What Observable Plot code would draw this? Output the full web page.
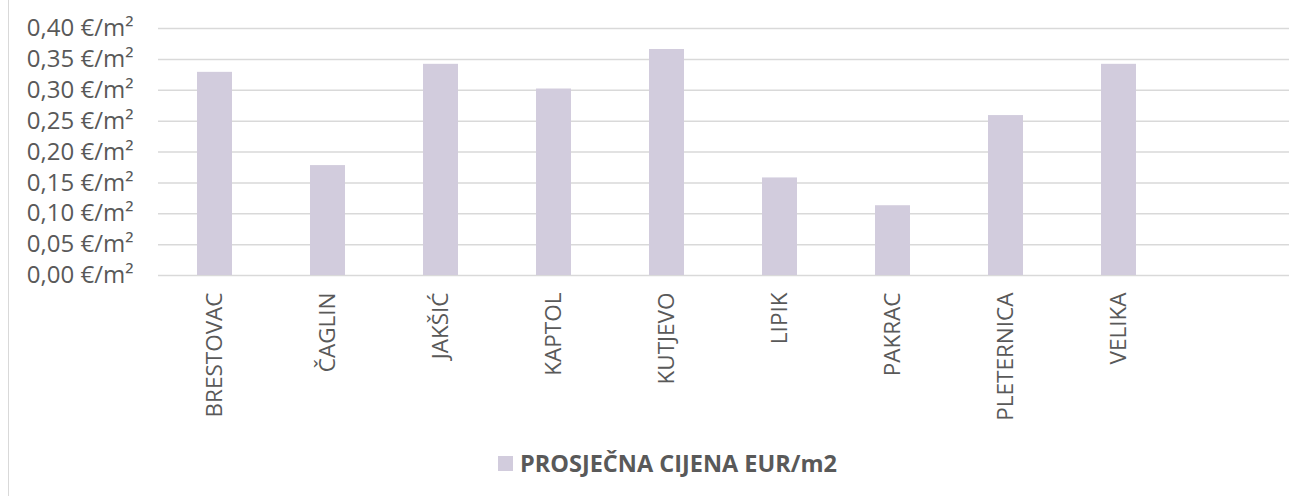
<!DOCTYPE html>
<html>
<head>
<meta charset="utf-8">
<script src="https://cdn.jsdelivr.net/npm/d3@7"></script>
<script src="https://cdn.jsdelivr.net/npm/@observablehq/plot@0.6"></script>
<style>
  html, body { margin: 0; padding: 0; background: #fff; }
  #wrap { position: relative; width: 1310px; height: 496px; overflow: hidden; font-family: "Open Sans", sans-serif; }
  #frame { position: absolute; left: 8px; top: 0; width: 0; height: 496px; border-left: 1px solid #d9d9d9; }
  #legend { position: absolute; left: 0; width: 1310px; top: 447px; display: flex; justify-content: center; align-items: center; color: #595959; font-weight: bold; font-size: 23.5px; padding-left: 25px; box-sizing: border-box; }
  #legend .sw { width: 15px; height: 15px; background: #d2ccdd; margin-right: 7px; }
</style>
</head>
<body>
<div id="wrap"><div id="frame"></div><div id="chart"></div><div id="legend"><span class="sw"></span><span id="legtext"></span></div></div>
<script>
const categories = ["BRESTOVAC", "ČAGLIN", "JAKŠIĆ", "KAPTOL", "KUTJEVO", "LIPIK", "PAKRAC", "PLETERNICA", "VELIKA"];
const prices = [0.329, 0.178, 0.342, 0.302, 0.366, 0.158, 0.113, 0.259, 0.342];
const yTicks = [0, 0.05, 0.10, 0.15, 0.20, 0.25, 0.30, 0.35, 0.40];
const seriesName = "PROSJEČNA CIJENA EUR/m2";

const data = categories.map((c, i) => ({category: c, value: prices[i]}));
const domain = [...categories, " "];

const chart = Plot.plot({
  width: 1310,
  height: 420,
  marginLeft: 158,
  marginRight: 21,
  marginTop: 28,
  marginBottom: 145,
  style: {fontFamily: "Open Sans, sans-serif", color: "#595959", background: "transparent"},
  x: {domain, paddingInner: 0.69, paddingOuter: 0.345, label: null},
  y: {domain: [0, 0.40], label: null},
  marks: [
    Plot.ruleY(yTicks, {stroke: "#d9d9d9", strokeWidth: 1.5}),
    Plot.barY(data, {x: "category", y: "value", fill: "#d2ccdd"}),
    Plot.axisY(yTicks, {tickSize: 0, tickPadding: 25, fontSize: 24, fill: "#595959",
      tickFormat: d => d.toFixed(2).replace(".", ",") + " €/m²"}),
    Plot.axisX({tickSize: 0, tickPadding: 17, tickRotate: -90, fontSize: 22.5, fill: "#595959"})
  ]
});
document.getElementById("chart").appendChild(chart);
document.getElementById("legtext").textContent = seriesName;
</script>
</body>
</html>
